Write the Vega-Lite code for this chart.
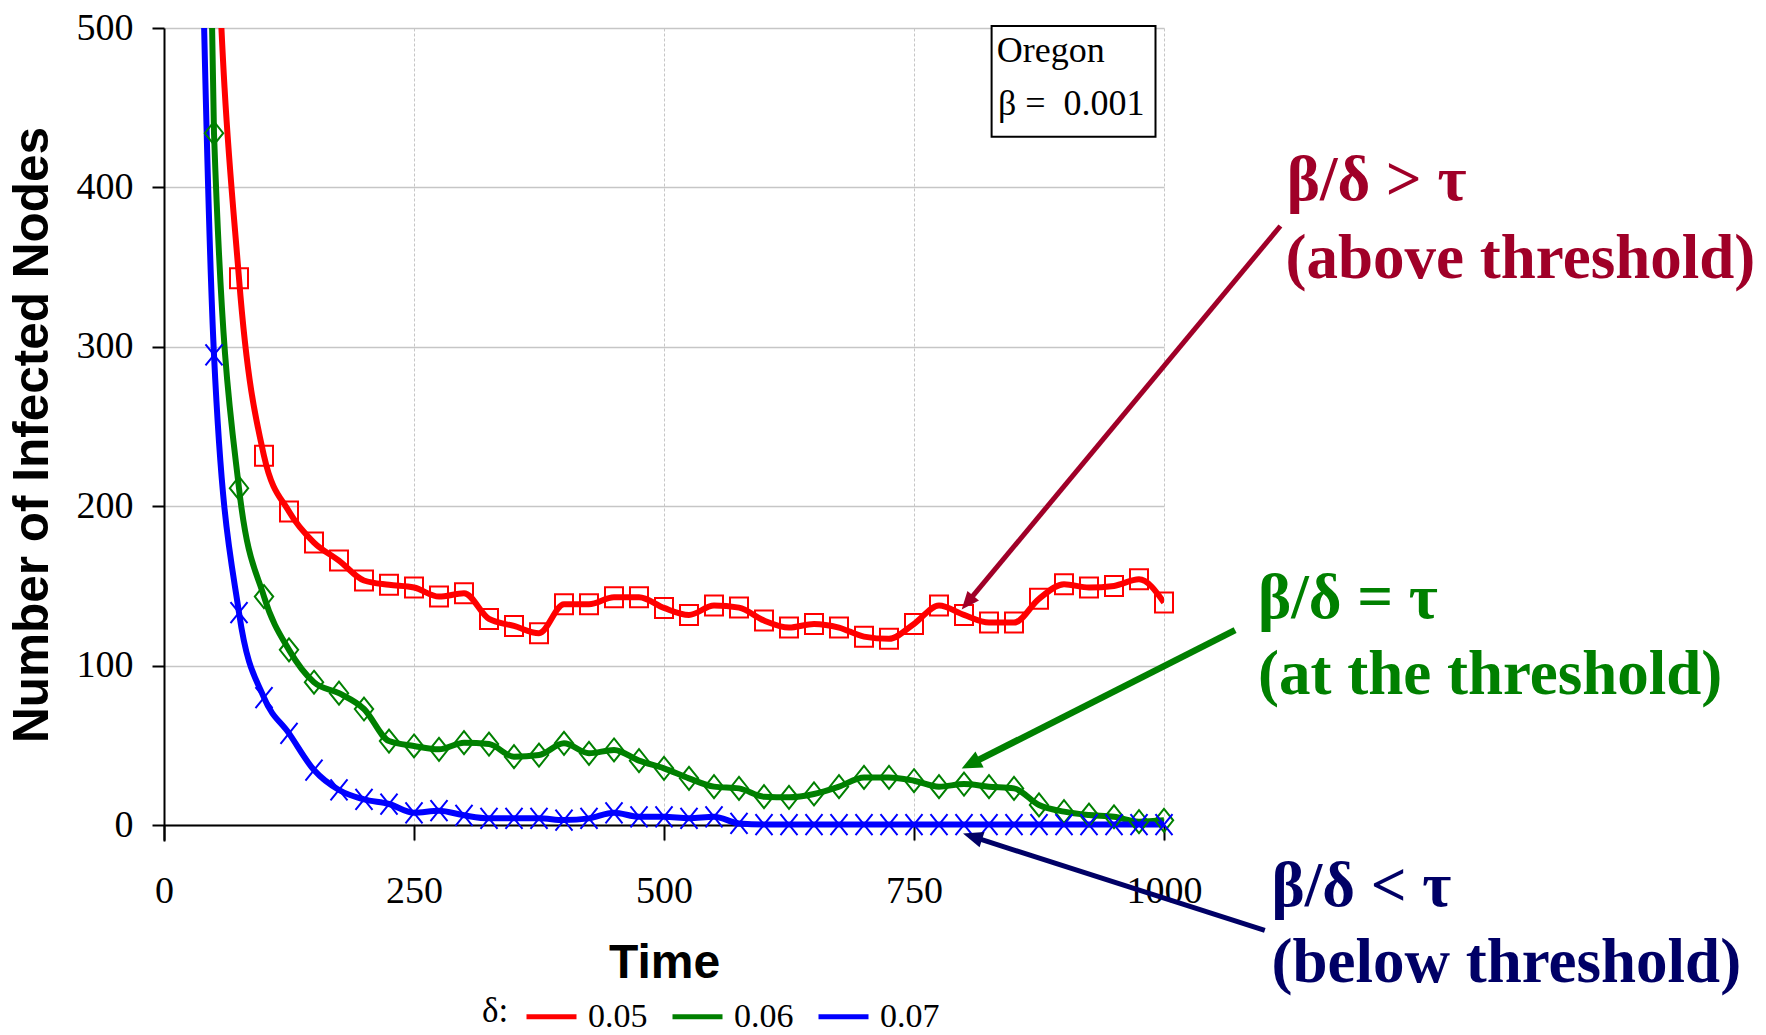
{
  "$schema": "https://vega.github.io/schema/vega-lite/v6.json",
  "autosize": {"type": "none"},
  "width": 1000,
  "height": 813,
  "padding": {"left": 164, "top": 28, "right": 602, "bottom": 194},
  "background": "white",
  "config": {"view": {"stroke": null}, "font": "Liberation Serif"},
  "datasets": {
    "series": [
      {"delta": "0.05", "t": 25, "n": 1400}, {"delta": "0.05", "t": 50, "n": 625}, {"delta": "0.05", "t": 75, "n": 343},
      {"delta": "0.05", "t": 100, "n": 231.6}, {"delta": "0.05", "t": 125, "n": 196.7}, {"delta": "0.05", "t": 150, "n": 177.2},
      {"delta": "0.05", "t": 175, "n": 165.9}, {"delta": "0.05", "t": 200, "n": 153.4}, {"delta": "0.05", "t": 225, "n": 150.7},
      {"delta": "0.05", "t": 250, "n": 149.0}, {"delta": "0.05", "t": 275, "n": 143.3}, {"delta": "0.05", "t": 300, "n": 145.4},
      {"delta": "0.05", "t": 325, "n": 129.3}, {"delta": "0.05", "t": 350, "n": 124.9}, {"delta": "0.05", "t": 375, "n": 120.3},
      {"delta": "0.05", "t": 400, "n": 138.5}, {"delta": "0.05", "t": 425, "n": 138.5}, {"delta": "0.05", "t": 450, "n": 142.9},
      {"delta": "0.05", "t": 475, "n": 142.9}, {"delta": "0.05", "t": 500, "n": 136.2}, {"delta": "0.05", "t": 525, "n": 131.8},
      {"delta": "0.05", "t": 550, "n": 137.7}, {"delta": "0.05", "t": 575, "n": 136.4}, {"delta": "0.05", "t": 600, "n": 128.3},
      {"delta": "0.05", "t": 625, "n": 123.9}, {"delta": "0.05", "t": 650, "n": 126.2}, {"delta": "0.05", "t": 675, "n": 123.9},
      {"delta": "0.05", "t": 700, "n": 118.2}, {"delta": "0.05", "t": 725, "n": 116.8}, {"delta": "0.05", "t": 750, "n": 126.2},
      {"delta": "0.05", "t": 775, "n": 137.7}, {"delta": "0.05", "t": 800, "n": 131.8}, {"delta": "0.05", "t": 825, "n": 127.0},
      {"delta": "0.05", "t": 850, "n": 127.0}, {"delta": "0.05", "t": 875, "n": 141.9}, {"delta": "0.05", "t": 900, "n": 151.1},
      {"delta": "0.05", "t": 925, "n": 149.0}, {"delta": "0.05", "t": 950, "n": 150.0}, {"delta": "0.05", "t": 975, "n": 154.2},
      {"delta": "0.05", "t": 1000, "n": 139.6},
      {"delta": "0.06", "t": 25, "n": 1300}, {"delta": "0.06", "t": 50, "n": 434}, {"delta": "0.06", "t": 75, "n": 211.3},
      {"delta": "0.06", "t": 100, "n": 143.3}, {"delta": "0.06", "t": 125, "n": 109.9}, {"delta": "0.06", "t": 150, "n": 89.6},
      {"delta": "0.06", "t": 175, "n": 82.7}, {"delta": "0.06", "t": 200, "n": 72.8}, {"delta": "0.06", "t": 225, "n": 52.7},
      {"delta": "0.06", "t": 250, "n": 49.6}, {"delta": "0.06", "t": 275, "n": 47.5}, {"delta": "0.06", "t": 300, "n": 51.7},
      {"delta": "0.06", "t": 325, "n": 50.8}, {"delta": "0.06", "t": 350, "n": 42.9}, {"delta": "0.06", "t": 375, "n": 43.9},
      {"delta": "0.06", "t": 400, "n": 51.3}, {"delta": "0.06", "t": 425, "n": 45.0}, {"delta": "0.06", "t": 450, "n": 47.1},
      {"delta": "0.06", "t": 475, "n": 40.4}, {"delta": "0.06", "t": 500, "n": 35.6}, {"delta": "0.06", "t": 525, "n": 29.3},
      {"delta": "0.06", "t": 550, "n": 24.1}, {"delta": "0.06", "t": 575, "n": 23.0}, {"delta": "0.06", "t": 600, "n": 17.8},
      {"delta": "0.06", "t": 625, "n": 17.4}, {"delta": "0.06", "t": 650, "n": 19.5}, {"delta": "0.06", "t": 675, "n": 24.1},
      {"delta": "0.06", "t": 700, "n": 29.9}, {"delta": "0.06", "t": 725, "n": 29.9}, {"delta": "0.06", "t": 750, "n": 27.8},
      {"delta": "0.06", "t": 775, "n": 24.1}, {"delta": "0.06", "t": 800, "n": 25.7}, {"delta": "0.06", "t": 825, "n": 24.1},
      {"delta": "0.06", "t": 850, "n": 23.0}, {"delta": "0.06", "t": 875, "n": 12.6}, {"delta": "0.06", "t": 900, "n": 8.4},
      {"delta": "0.06", "t": 925, "n": 6.3}, {"delta": "0.06", "t": 950, "n": 5.2}, {"delta": "0.06", "t": 975, "n": 2.1},
      {"delta": "0.06", "t": 1000, "n": 3.0},
      {"delta": "0.07", "t": 25, "n": 1000}, {"delta": "0.07", "t": 50, "n": 295}, {"delta": "0.07", "t": 75, "n": 133.3},
      {"delta": "0.07", "t": 100, "n": 79.9}, {"delta": "0.07", "t": 125, "n": 57.5}, {"delta": "0.07", "t": 150, "n": 34.5},
      {"delta": "0.07", "t": 175, "n": 22.0}, {"delta": "0.07", "t": 200, "n": 16.1}, {"delta": "0.07", "t": 225, "n": 13.2},
      {"delta": "0.07", "t": 250, "n": 7.7}, {"delta": "0.07", "t": 275, "n": 9.0}, {"delta": "0.07", "t": 300, "n": 6.1},
      {"delta": "0.07", "t": 325, "n": 4.2}, {"delta": "0.07", "t": 350, "n": 4.2}, {"delta": "0.07", "t": 375, "n": 4.2},
      {"delta": "0.07", "t": 400, "n": 3.1}, {"delta": "0.07", "t": 425, "n": 4.2}, {"delta": "0.07", "t": 450, "n": 7.7},
      {"delta": "0.07", "t": 475, "n": 5.2}, {"delta": "0.07", "t": 500, "n": 5.2}, {"delta": "0.07", "t": 525, "n": 4.2},
      {"delta": "0.07", "t": 550, "n": 5.2}, {"delta": "0.07", "t": 575, "n": 1.0}, {"delta": "0.07", "t": 600, "n": 0.3},
      {"delta": "0.07", "t": 625, "n": 0.3}, {"delta": "0.07", "t": 650, "n": 0.3}, {"delta": "0.07", "t": 675, "n": 0.3},
      {"delta": "0.07", "t": 700, "n": 0.3}, {"delta": "0.07", "t": 725, "n": 0.3}, {"delta": "0.07", "t": 750, "n": 0.3},
      {"delta": "0.07", "t": 775, "n": 0.3}, {"delta": "0.07", "t": 800, "n": 0.3}, {"delta": "0.07", "t": 825, "n": 0.3},
      {"delta": "0.07", "t": 850, "n": 0.3}, {"delta": "0.07", "t": 875, "n": 0.3}, {"delta": "0.07", "t": 900, "n": 0.3},
      {"delta": "0.07", "t": 925, "n": 0.3}, {"delta": "0.07", "t": 950, "n": 0.3}, {"delta": "0.07", "t": 975, "n": 0.3},
      {"delta": "0.07", "t": 1000, "n": 0.3}
    ],
    "notes": [
      {"kind": "above", "t": 1122.7, "n": 392.1, "text": "β/δ > τ"},
      {"kind": "above", "t": 1121.6, "n": 343.0, "text": "(above threshold)"},
      {"kind": "at", "t": 1094, "n": 129.6, "text": "β/δ = τ"},
      {"kind": "at", "t": 1094, "n": 82.1, "text": "(at the threshold)"},
      {"kind": "below", "t": 1107.5, "n": -51.0, "text": "β/δ < τ"},
      {"kind": "below", "t": 1107.5, "n": -98.5, "text": "(below threshold)"}
    ],
    "arrows": [
      {"kind": "above", "t": 1116.4, "n": 375.8, "t2": 804.1, "n2": 140.1, "tt": 797.7, "nt": 135.2},
      {"kind": "at", "t": 1071.1, "n": 122.3, "t2": 806.6, "n2": 38.3, "tt": 797.7, "nt": 35.5},
      {"kind": "below", "t": 1100.8, "n": -66.0, "t2": 808.5, "n2": -7.3, "tt": 799, "nt": -5.3}
    ],
    "box": [
      {"t": 827.6, "t2": 991.5, "n": 501.3, "n2": 431.8}
    ],
    "boxtext": [
      {"t": 832.8, "n": 478.9, "text": "Oregon"},
      {"t": 833.9, "n": 445.5, "text": "β = \u00a00.001"}
    ]
  },
  "encoding": {
    "x": {
      "field": "t", "type": "quantitative",
      "scale": {"domain": [0, 1000], "nice": false, "zero": false},
      "axis": {
        "values": [0, 250, 500, 750, 1000], "format": "d", "title": "Time", "offset": -16,
        "grid": true, "gridColor": "#c6c6c6", "gridWidth": 1, "gridDash": [3, 2],
        "domainColor": "#000000", "domainWidth": 2, "tickColor": "#000000", "tickWidth": 2, "tickSize": 15,
        "labelFont": "Liberation Serif", "labelFontSize": 38, "labelColor": "#000000", "labelPadding": 32,
        "labelFlush": false, "labelOverlap": false,
        "titleFont": "Liberation Sans", "titleFontSize": 48, "titleFontWeight": "bold", "titleColor": "#000000", "titlePadding": 29
      }
    },
    "y": {
      "field": "n", "type": "quantitative",
      "scale": {"domain": [-10, 500], "nice": false, "zero": false},
      "axis": {
        "values": [0, 100, 200, 300, 400, 500], "title": "Number of Infected Nodes",
        "grid": true, "gridColor": "#c6c6c6", "gridWidth": 1.5,
        "domainColor": "#000000", "domainWidth": 2, "tickColor": "#000000", "tickWidth": 2, "tickSize": 12,
        "labelFont": "Liberation Serif", "labelFontSize": 38, "labelColor": "#000000", "labelPadding": 19,
        "labelOverlap": false,
        "titleFont": "Liberation Sans", "titleFontSize": 49.5, "titleFontWeight": "bold", "titleColor": "#000000", "titlePadding": 19
      }
    }
  },
  "layer": [
    {
      "data": {"name": "series"},
      "mark": {"type": "line", "strokeWidth": 6, "clip": true, "interpolate": "monotone"},
      "encoding": {
        "color": {"field": "delta", "type": "nominal",
          "scale": {"domain": ["0.05", "0.06", "0.07"], "range": ["#ff0000", "#008000", "#0000ff"]}}
      }
    },
    {
      "data": {"name": "series"},
      "transform": [{"filter": "datum.n <= 500 && datum.delta === '0.05'"}],
      "mark": {"type": "point", "filled": false, "strokeWidth": 2, "size": 400, "opacity": 1, "shape": "M-0.9,-1H0.9V1H-0.9Z"},
      "encoding": {
        "color": {"field": "delta", "type": "nominal",
          "scale": {"domain": ["0.05", "0.06", "0.07"], "range": ["#ff0000", "#008000", "#0000ff"]},
          "legend": {
            "orient": "none", "legendX": 318, "legendY": 961, "direction": "horizontal",
            "title": "δ:", "titleOrient": "left", "titleFont": "Liberation Serif", "titleFontSize": 35,
            "titleFontWeight": "normal", "titleColor": "#000000", "titlePadding": 15,
            "titleAnchor": "middle", "titleBaseline": "middle",
            "labelFont": "Liberation Serif", "labelFontSize": 34, "labelColor": "#000000", "labelOffset": 9,
            "columnPadding": 14, "symbolSize": 2500, "symbolStrokeWidth": 5, "padding": 0,
            "encode": {"symbols": {
              "fill": {"value": "transparent"},
              "strokeWidth": {"value": 5},
              "opacity": {"value": 1}
            }}
          }}
      }
    },
    {
      "data": {"name": "series"},
      "transform": [{"filter": "datum.n <= 500 && datum.delta === '0.06'"}],
      "mark": {"type": "point", "filled": false, "strokeWidth": 2, "size": 400, "opacity": 1, "shape": "M0,-1.15L0.92,0L0,1.15L-0.92,0Z"},
      "encoding": {
        "color": {"field": "delta", "type": "nominal",
          "scale": {"domain": ["0.05", "0.06", "0.07"], "range": ["#ff0000", "#008000", "#0000ff"]}}
      }
    },
    {
      "data": {"name": "series"},
      "transform": [{"filter": "datum.n <= 500 && datum.delta === '0.07'"}],
      "mark": {"type": "point", "filled": false, "strokeWidth": 2, "size": 400, "opacity": 1, "shape": "M-0.85,-1.05L0.85,1.05M-0.85,1.05L0.85,-1.05"},
      "encoding": {
        "color": {"field": "delta", "type": "nominal",
          "scale": {"domain": ["0.05", "0.06", "0.07"], "range": ["#ff0000", "#008000", "#0000ff"]}}
      }
    },
    {
      "data": {"name": "box"},
      "mark": {"type": "rect", "fill": "#ffffff", "stroke": "#000000", "strokeWidth": 2},
      "encoding": {"x2": {"field": "t2"}, "y2": {"field": "n2"}}
    },
    {
      "data": {"name": "boxtext"},
      "mark": {"type": "text", "font": "Liberation Serif", "fontSize": 36, "align": "left", "baseline": "alphabetic", "color": "#000000"},
      "encoding": {"text": {"field": "text"}}
    },
    {
      "data": {"name": "arrows"},
      "transform": [{"filter": "datum.kind === 'above'"}],
      "mark": {"type": "rule", "color": "#a00028", "strokeWidth": 5},
      "encoding": {"x2": {"field": "t2"}, "y2": {"field": "n2"}}
    },
    {
      "data": {"name": "arrows"},
      "transform": [{"filter": "datum.kind === 'above'"}],
      "mark": {"type": "point", "filled": true, "color": "#a00028", "opacity": 1, "size": 400, "angle": 219.75, "shape": "M0,0L0.75,1.8L-0.75,1.8Z"},
      "encoding": {"x": {"field": "tt", "type": "quantitative"}, "y": {"field": "nt", "type": "quantitative"}}
    },
    {
      "data": {"name": "arrows"},
      "transform": [{"filter": "datum.kind === 'at'"}],
      "mark": {"type": "rule", "color": "#008000", "strokeWidth": 6.5},
      "encoding": {"x2": {"field": "t2"}, "y2": {"field": "n2"}}
    },
    {
      "data": {"name": "arrows"},
      "transform": [{"filter": "datum.kind === 'at'"}],
      "mark": {"type": "point", "filled": true, "color": "#008000", "opacity": 1, "size": 400, "angle": 243.2, "shape": "M0,0L0.9,2L-0.9,2Z"},
      "encoding": {"x": {"field": "tt", "type": "quantitative"}, "y": {"field": "nt", "type": "quantitative"}}
    },
    {
      "data": {"name": "arrows"},
      "transform": [{"filter": "datum.kind === 'below'"}],
      "mark": {"type": "rule", "color": "#000066", "strokeWidth": 5},
      "encoding": {"x2": {"field": "t2"}, "y2": {"field": "n2"}}
    },
    {
      "data": {"name": "arrows"},
      "transform": [{"filter": "datum.kind === 'below'"}],
      "mark": {"type": "point", "filled": true, "color": "#000066", "opacity": 1, "size": 400, "angle": 287.8, "shape": "M0,0L0.8,2L-0.8,2Z"},
      "encoding": {"x": {"field": "tt", "type": "quantitative"}, "y": {"field": "nt", "type": "quantitative"}}
    },
    {
      "data": {"name": "notes"},
      "transform": [{"filter": "datum.kind === 'above'"}],
      "mark": {"type": "text", "font": "Liberation Serif", "fontWeight": "bold", "fontSize": 63, "align": "left", "baseline": "alphabetic", "color": "#a00028"},
      "encoding": {"text": {"field": "text"}}
    },
    {
      "data": {"name": "notes"},
      "transform": [{"filter": "datum.kind === 'at'"}],
      "mark": {"type": "text", "font": "Liberation Serif", "fontWeight": "bold", "fontSize": 63, "align": "left", "baseline": "alphabetic", "color": "#008000"},
      "encoding": {"text": {"field": "text"}}
    },
    {
      "data": {"name": "notes"},
      "transform": [{"filter": "datum.kind === 'below'"}],
      "mark": {"type": "text", "font": "Liberation Serif", "fontWeight": "bold", "fontSize": 63, "align": "left", "baseline": "alphabetic", "color": "#000066"},
      "encoding": {"text": {"field": "text"}}
    }
  ]
}
